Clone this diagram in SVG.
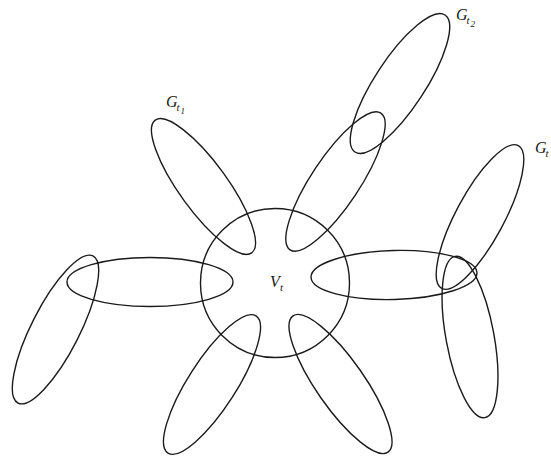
<svg xmlns="http://www.w3.org/2000/svg" width="551" height="460" viewBox="0 0 551 460">
<style>
.s{fill:none;stroke:#1a1a1a;stroke-width:1.4}
.l{font-family:"Liberation Serif","DejaVu Serif",serif;font-style:italic;fill:#1a1a1a}
.m{font-size:16px}
.sb{font-size:11px}
.ss{font-size:9px}
</style>
<rect width="551" height="460" fill="#fff"/>
<g id="hub"><circle class="s" cx="275" cy="283" r="74.5"/></g>
<g id="e_left"><ellipse class="s" cx="150" cy="282" rx="83" ry="24.5"/></g>
<g id="e_right"><ellipse class="s" cx="394" cy="275" rx="83" ry="24.5" transform="rotate(-1.5 394 275)"/></g>
<g id="e_gt1"><ellipse class="s" cx="203.5" cy="186.5" rx="82" ry="24" transform="rotate(54 203.5 186.5)"/></g>
<g id="e_ur"><ellipse class="s" cx="335.5" cy="181.5" rx="82" ry="24" transform="rotate(-56.4 335.5 181.5)"/></g>
<g id="e_gt2"><ellipse class="s" cx="400" cy="83.5" rx="82" ry="25" transform="rotate(-56.7 400 83.5)"/></g>
<g id="e_gt"><ellipse class="s" cx="480" cy="217" rx="81" ry="24" transform="rotate(-61.8 480 217)"/></g>
<g id="e_rv"><ellipse class="s" cx="470" cy="337" rx="82" ry="24" transform="rotate(79.5 470 337)"/></g>
<g id="e_lv"><ellipse class="s" cx="55.5" cy="329.5" rx="82.5" ry="24" transform="rotate(-63 55.5 329.5)"/></g>
<g id="e_ll"><ellipse class="s" cx="212" cy="384.5" rx="81.5" ry="24" transform="rotate(-57.3 212 384.5)"/></g>
<g id="e_lr"><ellipse class="s" cx="340.5" cy="384" rx="83" ry="24" transform="rotate(55.1 340.5 384)"/></g>
<g id="labels">
<text class="l m" x="166" y="107">G</text><text class="l sb" x="176.5" y="111">t</text><text class="l ss" x="180.5" y="114">1</text>
<text class="l m" x="456" y="20">G</text><text class="l sb" x="466.5" y="24">t</text><text class="l ss" x="470.5" y="27">2</text>
<text class="l m" x="535" y="153">G</text><text class="l sb" x="545.5" y="157">t</text>
<text class="l m" x="270" y="287">V</text><text class="l sb" x="280" y="291">t</text>
</g>
</svg>
